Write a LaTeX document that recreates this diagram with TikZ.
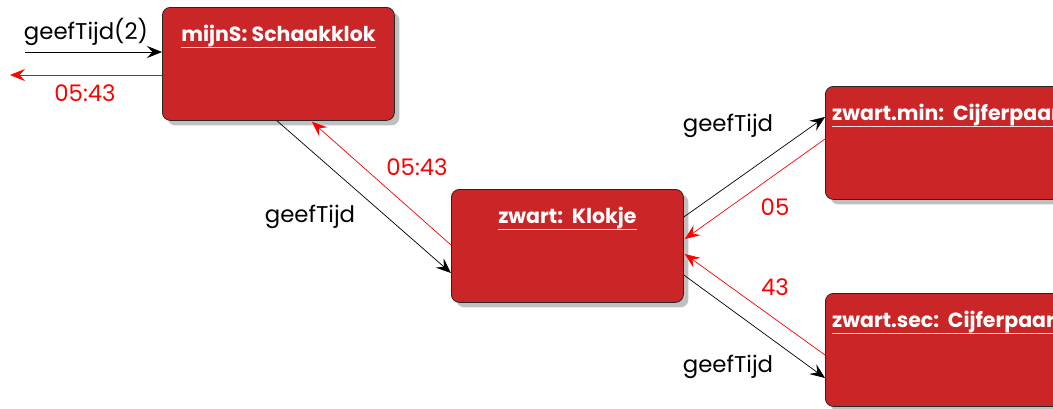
\documentclass[tikz,border=0pt]{standalone}
\usepackage{fontspec}
\setmainfont{Poppins}
\usetikzlibrary{arrows.meta,shadows,calc}
\definecolor{boxred}{RGB}{202,38,40}
\definecolor{shadowgray}{RGB}{192,192,192}
\begin{document}
\begin{tikzpicture}[x=1pt,y=-1pt,
  obj/.style={draw=black!85, line width=0.8pt, fill=boxred, rounded corners=8pt,
    minimum width=232pt, minimum height=113pt, inner sep=0pt, anchor=north west,
    drop shadow={shadow xshift=5pt, shadow yshift=-5pt, fill=shadowgray, opacity=1}},
  wide/.style={minimum width=246pt},
  ttl/.style={text=white, font=\fontsize{20.5}{25}\selectfont\bfseries, inner sep=0pt, anchor=base},
  uline/.style={draw=white!85!boxred, line width=1pt},
  tip/.style={-{Stealth[length=15pt,width=12pt,inset=5.5pt]}},
  msg/.style={draw=black, line width=0.7pt, tip},
  ret/.style={draw=red, line width=0.7pt, tip},
  lbl/.style={font=\fontsize{22.8}{27}\selectfont, inner sep=0pt},
  rlbl/.style={lbl, text=red}]
\useasboundingbox (0,0) rectangle (1053,408);
\clip (0,0) rectangle (1053,408);

% objects
\node[obj] (s) at (162,7) {};
\node[obj] (k) at (451,189) {};
\node[obj,wide] (m) at (825,86) {};
\node[obj,wide] (c) at (825,293) {};

% object titles, underlined
\foreach \b/\t in {s/{mijnS: Schaakklok}, k/{zwart:\ \ Klokje}}{
  \node[ttl] (\b t) at ($(\b.north)+(0,34)$) {\t};
  \draw[uline] ($(\b t.base west)+(0,6.5)$) -- ($(\b t.base east)+(0,6.5)$);
}
\foreach \b/\t in {m/{zwart.min:\ \ Cijferpaar}, c/{zwart.sec:\ \ Cijferpaar}}{
  \node[ttl, anchor=base west] (\b t) at ($(\b.north west)+(7,34)$) {\t};
  \draw[uline] ($(\b t.base west)+(0,6.5)$) -- ($(\b t.base east)+(0,6.5)$);
}

% outside caller
\coordinate (in) at (25,52);
\coordinate (out) at (10,75);
\draw[msg] (in) -- ($(s.north west)+(0,45)$);
\draw[ret] ($(s.north west)+(0,68)$) -- (out);
\node[lbl] (l1) at (86,32) {geefTijd(2)};
\node[rlbl] (l2) at (85,93) {05:43};

% Schaakklok <-> Klokje
\draw[msg] ($(s.south west)+(115,0)$) -- ($(k.north west)+(0,84)$);
\draw[ret] ($(k.north west)+(0,56)$) -- ($(s.south west)+(150,1)$);
\node[lbl] (l3) at (310,217) {geefTijd};
\node[rlbl] (l4) at (417,167) {05:43};

% Klokje <-> minuten
\draw[msg] ($(k.north east)+(0,28)$) -- ($(m.north west)+(0,31)$);
\draw[ret] ($(m.north west)+(0,53)$) -- ($(k.north east)+(1,50)$);
\node[lbl] (l5) at (728,126) {geefTijd};
\node[rlbl] (l6) at (775,207) {05};

% Klokje <-> seconden
\draw[ret] ($(c.north west)+(0,62)$) -- ($(k.north east)+(1,65)$);
\draw[msg] ($(k.north east)+(0,86)$) -- ($(c.north west)+(0,85)$);
\node[rlbl] (l7) at (775,287) {43};
\node[lbl] (l8) at (728,367) {geefTijd};
\end{tikzpicture}
\end{document}
